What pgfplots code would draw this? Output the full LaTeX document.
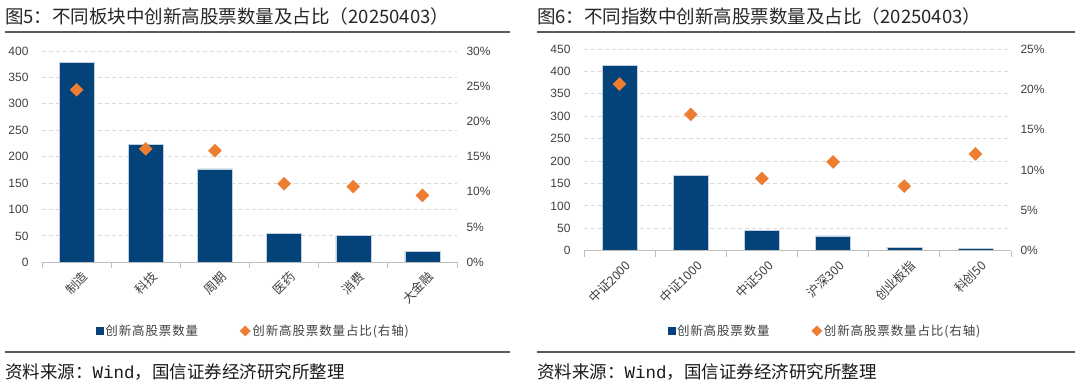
\documentclass[border=0pt]{standalone}
\usepackage{fontspec}
\setmainfont{Liberation Sans}
\newfontfamily\cjk{Noto Sans CJK SC}
\newfontfamily\cjkl[LetterSpace=7]{Noto Sans CJK SC}
\newfontfamily\mono{Liberation Mono}
\usepackage{pgfplots}
\pgfplotsset{compat=1.18}
\definecolor{barblue}{HTML}{034379}
\definecolor{dorange}{HTML}{ED7D31}
\definecolor{txt}{HTML}{404040}
\definecolor{gridc}{HTML}{D9D9D9}
\definecolor{axc}{HTML}{BFBFBF}
\definecolor{rule}{HTML}{595959}
\pgfplotsset{
  barax/.style={
    scale only axis, anchor=south west,
    xmin=-0.5, xmax=5.5, ymin=0,
    axis line style={draw=none},
    major tick length=0pt, minor tick length=6pt, tick align=outside,
    tick pos=left,
    xtick={0,...,5},
    minor xtick={-0.5,0.5,...,5.5},
    minor tick style={draw=axc, line width=0.8pt},
    ymajorgrids,
    grid style={gridc, dashed, dash pattern=on 4pt off 3pt, line width=0.8pt},
    xticklabel style={font=\cjk\fontsize{12.5}{14}\selectfont, rotate=45, anchor=east, text=txt, yshift=-15pt, xshift=1pt},
    yticklabel style={font=\fontsize{12}{14}\selectfont, text=txt, xshift=-10pt},
    /pgf/number format/assume math mode=true,
  },
  pctax/.style={
    scale only axis, anchor=south west,
    xmin=-0.5, xmax=5.5, ymin=0,
    axis line style={draw=none},
    major tick length=0pt,
    xtick=\empty,
    ytick pos=right, yticklabel pos=right,
    yticklabel style={font=\fontsize{12}{14}\selectfont, text=txt, anchor=west, xshift=6pt},
    legend columns=2,
    legend style={draw=none, fill=none, font=\cjkl\fontsize{12.5}{14}\selectfont, text=txt,
      /tikz/every even column/.append style={column sep=40pt}},
  },
  sqleg/.style={legend image code/.code={\fill[barblue] (0pt,-3.5pt) rectangle (7pt,3.5pt);}},
  dmleg/.style={legend image code/.code={\draw[##1, mark size=3.6pt] plot coordinates {(4pt,0pt)};}},
}
\begin{document}
\begin{tikzpicture}[x=1pt,y=1pt]
\useasboundingbox (0,0) rectangle (1080,385);
% ---------- Panel 1 ----------
\node[anchor=west, font=\cjk\fontsize{18.5}{20}\selectfont, text=black!85, inner sep=0pt] at (5,369) {图5：不同板块中创新高股票数量及占比（20250403）};
\draw[rule, line width=1.2pt] (5,353) -- (510,353);
\begin{axis}[barax, at={(42pt,122.7pt)}, width=415pt, height=211.3pt,
  ymax=400, ytick={0,50,...,400},
  xticklabels={制造,科技,周期,医药,消费,大金融}]
\addplot[ybar, bar width=35pt, bar shift=0pt, fill=barblue, draw=white!75!barblue, line width=0.5pt]
  coordinates {(0,378) (1,223) (2,177) (3,55) (4,51) (5,21)};
\draw[axc, line width=0.8pt] (axis cs:-0.5,0) -- (axis cs:5.5,0);
\end{axis}
\begin{axis}[pctax, at={(42pt,122.7pt)}, width=415pt, height=211.3pt,
  ymax=30, ytick={0,5,...,30}, yticklabels={0\%,5\%,10\%,15\%,20\%,25\%,30\%},
  legend style={at={(0.5096,-0.3251)}, anchor=center}]
\addlegendimage{sqleg}
\addlegendentry{创新高股票数量}
\addplot[only marks, mark=square*, mark size=4.6pt, mark options={rotate=45}, color=dorange, dmleg]
  coordinates {(0,24.5) (1,16.1) (2,15.85) (3,11.15) (4,10.75) (5,9.5)};
\addlegendentry{创新高股票数量占比(右轴)}
\end{axis}
\draw[rule, line width=1.2pt] (5,33) -- (510,33);
\node[anchor=west, font=\cjk\fontsize{17.5}{19}\selectfont, text=black!90, inner sep=0pt] at (5,13) {资料来源：{\mono Wind}，国信证券经济研究所整理};
% ---------- Panel 2 ----------
\node[anchor=west, font=\cjk\fontsize{18.5}{20}\selectfont, text=black!85, inner sep=0pt] at (537,369) {图6：不同指数中创新高股票数量及占比（20250403）};
\draw[rule, line width=1.2pt] (537,353) -- (1075,353);
\begin{axis}[barax, at={(584pt,134.3pt)}, width=427pt, height=201.7pt,
  ymax=450, ytick={0,50,...,450},
  xticklabels={{中证2000},{中证1000},{中证500},{沪深300},{创业板指},{科创50}}]
\addplot[ybar, bar width=35pt, bar shift=0pt, fill=barblue, draw=white!75!barblue, line width=0.5pt]
  coordinates {(0,414) (1,168) (2,45) (3,33) (4,8) (5,5)};
\draw[axc, line width=0.8pt] (axis cs:-0.5,0) -- (axis cs:5.5,0);
\end{axis}
\begin{axis}[pctax, at={(584pt,134.3pt)}, width=427pt, height=201.7pt,
  ymax=25, ytick={0,5,...,25}, yticklabels={0\%,5\%,10\%,15\%,20\%,25\%},
  legend style={at={(0.5644,-0.398)}, anchor=center}]
\addlegendimage{sqleg}
\addlegendentry{创新高股票数量}
\addplot[only marks, mark=square*, mark size=4.6pt, mark options={rotate=45}, color=dorange, dmleg]
  coordinates {(0,20.65) (1,16.9) (2,8.95) (3,11.0) (4,8.0) (5,12.0)};
\addlegendentry{创新高股票数量占比(右轴)}
\end{axis}
\draw[rule, line width=1.2pt] (537,33) -- (1075,33);
\node[anchor=west, font=\cjk\fontsize{17.5}{19}\selectfont, text=black!90, inner sep=0pt] at (537,13) {资料来源：{\mono Wind}，国信证券经济研究所整理};
\end{tikzpicture}
\end{document}
